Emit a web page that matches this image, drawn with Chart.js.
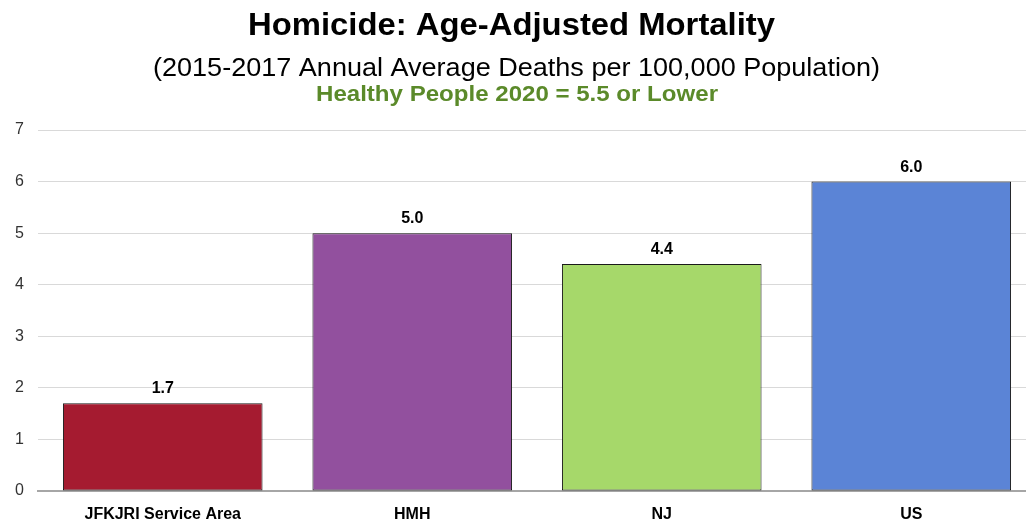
<!DOCTYPE html>
<html>
<head>
<meta charset="utf-8">
<script src="https://cdn.jsdelivr.net/npm/chart.js@4"></script>
<style>
  html, body { margin: 0; padding: 0; background: #fff; overflow: hidden; }
  #clip { width: 1026px; height: 527px; overflow: hidden; }
  /* the plot runs a little past the right edge in the original */
  #wrap { width: 1036px; height: 527px; }
</style>
</head>
<body>
<div id="clip"><div id="wrap"><canvas id="myBarChart"></canvas></div></div>
<script>
const categories = ['JFKJRI Service Area', 'HMH', 'NJ', 'US'];
const rates = [1.7, 5.0, 4.4, 6.0];
const barColors = ['#A51B30', '#92509E', '#A6D86A', '#5B84D6'];
const yTicks = [0, 1, 2, 3, 4, 5, 6, 7];

const FONT = '"Liberation Sans", Arial, sans-serif';

// draw a line of text centred at cx, squeezed/stretched to a given width
function fitText(ctx, text, font, color, cx, baseline, width) {
    ctx.save();
    ctx.font = font;
    ctx.fillStyle = color;
    ctx.textAlign = 'center';
    ctx.textBaseline = 'alphabetic';
    const w = ctx.measureText(text).width;
    ctx.translate(cx, baseline);
    ctx.scale(width / w, 1);
    ctx.fillText(text, 0, 0);
    ctx.restore();
}

const headings = {
    id: 'headings',
    afterDraw(chart) {
        const ctx = chart.ctx;
        fitText(ctx, 'Homicide: Age-Adjusted Mortality', 'bold 32px ' + FONT, '#000', 511.5, 35, 527);
        fitText(ctx, '(2015-2017 Annual Average Deaths per 100,000 Population)', '26px ' + FONT, '#000', 516.5, 76, 727);
        fitText(ctx, 'Healthy People 2020 = 5.5 or Lower', 'bold 22px ' + FONT, '#5B8A2A', 517, 101, 402);
    }
};

// value labels over bars
const valueLabels = {
    id: 'valueLabels',
    afterDatasetsDraw(chart) {
        const ctx = chart.ctx;
        const meta = chart.getDatasetMeta(0);
        ctx.save();
        ctx.textAlign = 'center';
        ctx.textBaseline = 'alphabetic';
        ctx.fillStyle = '#000';
        ctx.font = 'bold 16px ' + FONT;
        meta.data.forEach((bar, i) => {
            ctx.fillText(rates[i].toFixed(1), bar.x, bar.y - 10);
        });
        ctx.restore();
    }
};

new Chart(document.querySelector('#myBarChart'), {
    type: 'bar',
    data: {
        labels: categories,
        datasets: [{
            data: rates,
            backgroundColor: barColors,
            borderColor: '#1a1a1a',
            borderWidth: 1,
            borderSkipped: false,
            barPercentage: 0.8,
            categoryPercentage: 1
        }]
    },
    options: {
        responsive: true,
        maintainAspectRatio: false,
        animation: false,
        layout: { padding: { top: 130, left: 15, right: 0, bottom: 0 } },
        plugins: {
            legend: { display: false },
            tooltip: { enabled: false }
        },
        scales: {
            x: {
                grid: { display: false, drawTicks: false },
                border: { color: '#A6A6A6', width: 2 },
                ticks: {
                    color: '#000',
                    font: { family: FONT, size: 16, weight: 'bold' },
                    padding: 14
                },
                afterFit(axis) { axis.height = 36; }
            },
            y: {
                min: 0,
                max: 7,
                afterBuildTicks(axis) {
                    axis.ticks = yTicks.map(v => ({ value: v }));
                },
                grid: { color: '#D9D9D9', drawTicks: false },
                border: { display: false },
                ticks: {
                    color: '#333',
                    font: { family: FONT, size: 16 },
                    padding: 14
                },
                afterFit(axis) { axis.width = 23; }
            }
        }
    },
    plugins: [headings, valueLabels]
});
</script>
</body>
</html>
